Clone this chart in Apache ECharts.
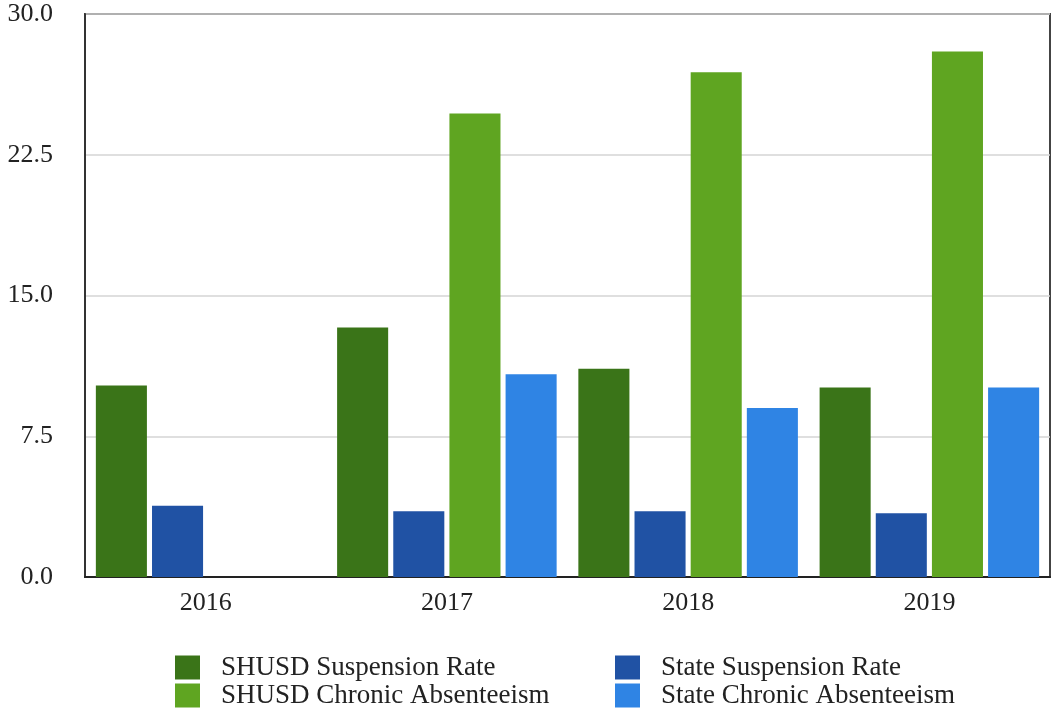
<!DOCTYPE html>
<html>
<head>
<meta charset="utf-8">
<script src="https://cdn.jsdelivr.net/npm/echarts@6/dist/echarts.min.js"></script>
<style>
  html, body { margin: 0; padding: 0; background: #fff; }
  #main { width: 1053px; height: 713px; }
</style>
</head>
<body>
<div id="main"></div>
<script>
// data
var years = ['2016', '2017', '2018', '2019'];
var shusdSuspension = [10.2, 13.3, 11.1, 10.1];
var stateSuspension = [3.8, 3.5, 3.5, 3.4];
var shusdChronic = [null, 24.7, 26.9, 28.0];
var stateChronic = [null, 10.8, 9.0, 10.1];
var yTicks = [0, 7.5, 15, 22.5, 30];

var font = '"Liberation Serif", "DejaVu Serif", serif';

var myChart = echarts.init(document.getElementById('main'));

function bar(name, data, color) {
    return {
        name: name,
        type: 'bar',
        data: data,
        barGap: '10%',
        barCategoryGap: '9%',
        itemStyle: { color: color },
        emphasis: { disabled: true }
    };
}

// one legend per entry so the 2x2 layout stays put
function legendItem(name, left, top) {
    return {
        left: left, top: top, padding: 0,
        itemWidth: 25, itemHeight: 24,
        icon: 'rect',
        selectedMode: false,
        textStyle: {
            fontFamily: font, fontSize: 27, color: '#222',
            lineHeight: 24, padding: [0, 0, 0, 16]
        },
        data: [name]
    };
}

var option = {
    animation: false,
    backgroundColor: '#fff',
    grid: {
        left: 85, right: 3, top: 14, bottom: 136,
        show: true, borderColor: '#444', borderWidth: 2
    },
    legend: [
        legendItem('SHUSD Suspension Rate', 175, 654),
        legendItem('SHUSD Chronic Absenteeism', 175, 682),
        legendItem('State Suspension Rate', 615, 654),
        legendItem('State Chronic Absenteeism', 615, 682)
    ],
    xAxis: {
        type: 'category',
        data: years,
        axisLine: { lineStyle: { color: '#222', width: 2 } },
        axisTick: { show: false },
        axisLabel: { fontFamily: font, fontSize: 26, color: '#222', margin: 13 }
    },
    yAxis: {
        type: 'value',
        min: yTicks[0],
        max: yTicks[yTicks.length - 1],
        interval: yTicks[1] - yTicks[0],
        axisLine: { show: true, lineStyle: { color: '#333', width: 2 } },
        axisTick: { show: false },
        splitLine: { lineStyle: { color: '#d4d4d4', width: 1.5 } },
        axisLabel: {
            fontFamily: font, fontSize: 26, color: '#222', margin: 32,
            formatter: function (v) { return v.toFixed(1); }
        }
    },
    series: [
        bar('SHUSD Suspension Rate', shusdSuspension, '#3a7418'),
        bar('State Suspension Rate', stateSuspension, '#2052a4'),
        bar('SHUSD Chronic Absenteeism', shusdChronic, '#5fa521'),
        bar('State Chronic Absenteeism', stateChronic, '#2f84e4')
    ]
};

myChart.setOption(option);
</script>
</body>
</html>
